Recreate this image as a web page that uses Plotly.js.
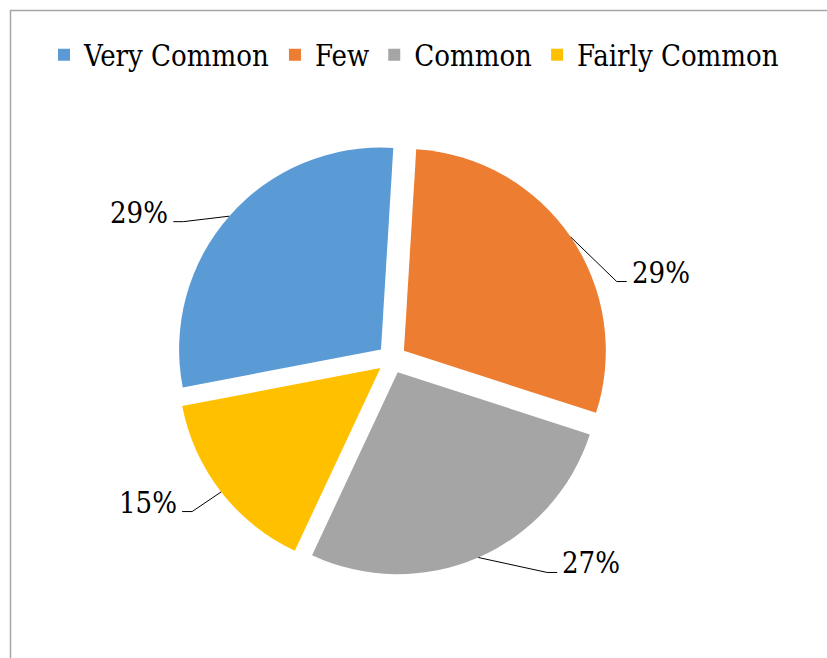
<!DOCTYPE html>
<html>
<head>
<meta charset="utf-8">
<script src="https://cdn.plot.ly/plotly-3.0.1.min.js"></script>
<style>
  html, body { margin: 0; padding: 0; background: #ffffff; }
  #chart { width: 827px; height: 658px; }
</style>
</head>
<body>
<div id="chart"></div>
<script>
// ---- data ----
const categories = ['Very Common', 'Few', 'Common', 'Fairly Common'];
const shares = [29, 29, 27, 15];
const percentLabels = ['29%', '29%', '27%', '15%'];

// ---- style / layout config ----
const colors = ['#5B9BD5', '#ED7D31', '#A5A5A5', '#FFC000'];
const elbowOffsets = [[-46, 5.5], [46, 44.5], [69, 15], [-29, 19.6]]; // leader elbow offset (px) from slice edge
const W = 827, H = 658;
const pull = 0.072;
const rotationShift = 3.5; // degrees
const domX = [0.2122, 0.7356];
const domY = [0.1254, 0.7834];
const FONT_A = 'DejaVu Serif Condensed, DejaVu Serif, serif';
const FONT_B = 'DejaVu Serif Condensed, DejaVu Serif, serif';

const cx = W * (domX[0] + domX[1]) / 2;
const boxH = H * (domY[1] - domY[0]);
const cy = H * (1 - domY[0]) - boxH / 2;
const half = Math.min(W * (domX[1] - domX[0]), boxH) / 2;
const r = half / (1 + pull);
const total = shares.reduce((a, b) => a + b, 0);
const rotation = -shares[0] / total * 360 + rotationShift;

const shapes = [{
  type: 'rect', xref: 'paper', yref: 'paper',
  x0: 10.5 / W, x1: 1.05, y0: -0.05, y1: 1 - 10.5 / H,
  line: { color: '#a6a6a6', width: 1.5 }, fillcolor: 'rgba(0,0,0,0)', layer: 'below'
}];
const annotations = [];
const px = x => x / W;
const py = y => 1 - y / H;

let cum = 0;
shares.forEach((v, i) => {
  const a0 = rotation + cum / total * 360;
  const a1 = a0 + v / total * 360;
  cum += v;
  const am = (a0 + a1) / 2 * Math.PI / 180;
  const sx = Math.sin(am), sy = -Math.cos(am);
  const tipX = cx + pull * r * sx, tipY = cy + pull * r * sy;
  const arcX = tipX + r * sx, arcY = tipY + r * sy;
  const ex = arcX + elbowOffsets[i][0], ey = arcY + elbowOffsets[i][1];
  const side = sx > 0 ? 1 : -1;
  const hx = ex + side * 10;
  shapes.push({
    type: 'path', xref: 'paper', yref: 'paper',
    path: `M ${px(arcX)},${py(arcY)} L ${px(ex)},${py(ey)} L ${px(hx)},${py(ey)}`,
    line: { color: '#000000', width: 1 }
  });
  annotations.push({
    xref: 'paper', yref: 'paper',
    x: px(hx + side * 3), y: py(ey - 9),
    xanchor: side > 0 ? 'left' : 'right', yanchor: 'middle',
    text: percentLabels[i], showarrow: false,
    font: { family: FONT_B, size: 29, color: '#000000' }
  });
});

const trace = {
  type: 'pie',
  labels: categories,
  values: shares,
  sort: false,
  direction: 'clockwise',
  rotation: rotation,
  pull: pull,
  textinfo: 'none',
  hoverinfo: 'label+percent',
  marker: { colors: colors, line: { color: '#ffffff', width: 0 } },
  domain: { x: domX, y: domY }
};

const layout = {
  width: W, height: H,
  margin: { l: 0, r: 0, t: 0, b: 0 },
  paper_bgcolor: '#ffffff',
  plot_bgcolor: '#ffffff',
  font: { family: FONT_A },
  showlegend: true,
  legend: {
    orientation: 'h', x: 0.5006, xanchor: 'center', y: 1 - 55 / H, yanchor: 'middle',
    font: { family: FONT_A, size: 29, color: '#000000' },
    bgcolor: 'rgba(0,0,0,0)',
    itemwidth: 30, traceorder: 'normal'
  },
  shapes: shapes,
  annotations: annotations
};

Plotly.newPlot('chart', [trace], layout, { displayModeBar: false, staticPlot: true });
</script>
</body>
</html>
